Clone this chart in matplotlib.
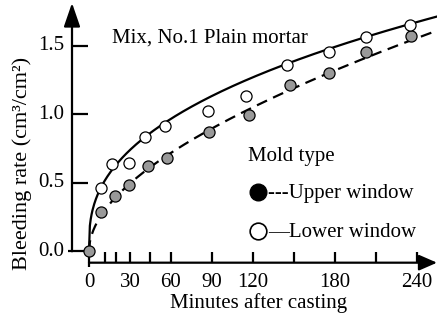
import numpy as np
import matplotlib
matplotlib.use('Agg')
import matplotlib.pyplot as plt

plt.rcParams['font.family'] = ['Liberation Serif', 'DejaVu Serif']

# ---- data ----
upper_t = [0, 9, 19, 29, 43, 57, 88, 117, 147, 176, 203, 236]
upper_v = [0.00, 0.29, 0.40, 0.48, 0.62, 0.68, 0.87, 0.99, 1.21, 1.30, 1.45, 1.57]
lower_t = [9, 17, 29, 41, 56, 87, 115, 145, 176, 203, 235]
lower_v = [0.465, 0.635, 0.647, 0.83, 0.91, 1.02, 1.13, 1.36, 1.45, 1.56, 1.65]

# trend-curve knots (curves are least-squares fits of these)
upper_curve_t = [0, 4.4, 13, 25, 37, 52, 72, 103, 133, 181, 255]
upper_curve_v = [0.0, 0.17, 0.33, 0.465, 0.55, 0.647, 0.78, 0.97, 1.13, 1.31, 1.61]
lower_curve_t = [0, 3.2, 17.6, 37.4, 81.3, 118, 132.6, 181.5, 230, 255]
lower_curve_v = [0.0, 0.27, 0.64, 0.855, 1.07, 1.24, 1.30, 1.48, 1.65, 1.73]

x_ticks = [0, 12, 20, 30, 45, 60, 90, 120, 150, 180, 210, 240]
x_tick_labels = ['0', '30', '60', '90', '120', '180', '240']
x_label_pos = [0, 30, 60, 90, 120, 180, 240]
y_ticks = [0.0, 0.5, 1.0, 1.5]
y_tick_labels = ['0.0', '0.5', '1.0', '1.5']

title = 'Mix, No.1 Plain mortar'
xlabel = 'Minutes after casting'
ylabel = 'Bleeding rate (cm³/cm²)'


def fit_curve(t, v, tt):
    t = np.asarray(t, float)
    v = np.asarray(v, float)
    A = np.column_stack([t ** 0.25, t ** 0.5, t])
    coef, *_ = np.linalg.lstsq(A, v, rcond=None)
    B = np.column_stack([tt ** 0.25, tt ** 0.5, tt])
    return B @ coef


fig = plt.figure(figsize=(4.37, 3.24), dpi=100)
ax = fig.add_axes([0, 0, 1, 1])
ax.set_xlim(-65.2, 254.95)
ax.set_ylim(-0.5299, 1.8317)
ax.axis('off')

FS = 15
lw_ax = 1.6
y_axis_x = -12.45
x_axis_y = -0.083

# axes with arrows
ax.annotate('', xy=(y_axis_x, 1.81), xytext=(y_axis_x, 0.0),
            arrowprops=dict(arrowstyle='-|>,head_length=1.45,head_width=0.5',
                            lw=lw_ax, color='k', mutation_scale=10,
                            shrinkA=0, shrinkB=0))
ax.annotate('', xy=(254.95, x_axis_y), xytext=(0, x_axis_y),
            arrowprops=dict(arrowstyle='-|>,head_length=1.1,head_width=0.48',
                            lw=lw_ax, color='k', mutation_scale=10,
                            shrinkA=0, shrinkB=0))

# x ticks
for t in x_ticks:
    lo = -0.114 if t == 0 else x_axis_y
    ax.plot([t, t], [lo, -0.003], color='k', lw=lw_ax, solid_capstyle='butt')
for t, lab in zip(x_label_pos, x_tick_labels):
    ax.text(t, -0.231, lab, fontsize=FS, ha='center', va='center')

# y ticks
for v, lab in zip(y_ticks, y_tick_labels):
    x0 = -15.4 if v == 0 else y_axis_x
    ax.plot([x0, -0.73], [v, v], color='k', lw=lw_ax, solid_capstyle='butt')
    ax.text(-18.3, v, lab, fontsize=FS, ha='right', va='center')

# labels
ax.text(124.5, -0.377, xlabel, fontsize=FS, ha='center', va='center')
ax.text(-49.1, 0.64, ylabel, fontsize=16, ha='center', va='center', rotation=90)
ax.text(16.8, 1.525, title, fontsize=FS, ha='left', va='baseline')

# curves
tt = np.linspace(0, 255, 400)
ax.plot(tt, fit_curve(lower_curve_t, lower_curve_v, tt), color='k', lw=1.6)
ax.plot(tt, fit_curve(upper_curve_t, upper_curve_v, tt), color='k', lw=1.6,
        dashes=(5, 3))

# markers
ax.plot(upper_t, upper_v, 'o', ms=8, mfc='#999999', mec='k', mew=0.9, zorder=5,
        clip_on=False)
ax.plot(lower_t, lower_v, 'o', ms=8, mfc='white', mec='k', mew=0.9, zorder=5,
        clip_on=False)

# legend-like annotation
ax.text(116.5, 0.658, 'Mold type', fontsize=FS, ha='left', va='baseline')
ax.plot([123.8], [0.432], 'o', ms=12, mfc='k', mec='k', clip_on=False)
ax.text(131.1, 0.387, '---Upper window', fontsize=FS, ha='left', va='baseline')
ax.plot([123.8], [0.148], 'o', ms=12, mfc='white', mec='k', mew=1.2, clip_on=False)
ax.text(131.1, 0.102, '—Lower window', fontsize=FS, ha='left', va='baseline')

fig.savefig('out.png', dpi=100)
